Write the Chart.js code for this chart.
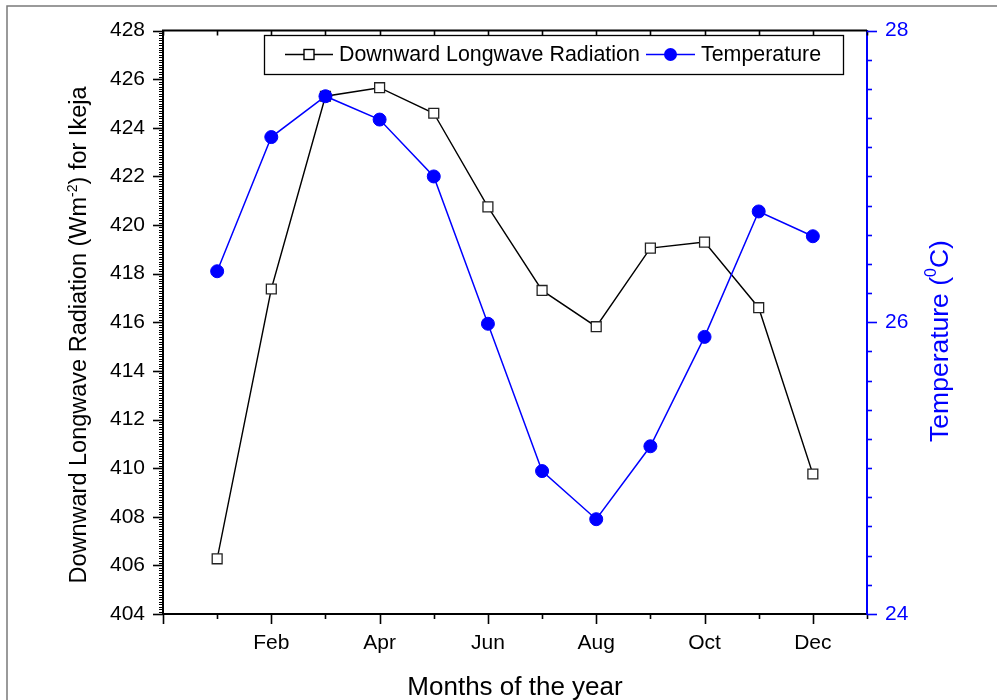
<!DOCTYPE html>
<html lang="en">
<head>
<meta charset="UTF-8">
<title>Downward Longwave Radiation and Temperature - Ikeja</title>
<script src="https://cdn.jsdelivr.net/npm/chart.js"></script>
<style>
    body { margin: 0; background: #fff; }
    canvas { display: block; }
</style>
</head>
<body>
<canvas id="chart" width="997" height="700"></canvas>
<script>
// data
var months = ['Jan', 'Feb', 'Mar', 'Apr', 'May', 'Jun', 'Jul', 'Aug', 'Sep', 'Oct', 'Nov', 'Dec'];
var monthIndex = [1, 2, 3, 4, 5, 6, 7, 8, 9, 10, 11, 12];
var radiation = [406.27, 417.37, 425.3, 425.65, 424.6, 420.75, 417.31, 415.82, 419.05, 419.3, 416.6, 409.76];
var temperature = [26.35, 27.27, 27.55, 27.39, 27.0, 25.99, 24.98, 24.65, 25.15, 25.9, 26.76, 26.59];
var radTicks = [404, 428, 2];   // min, max, step
var tempTicks = [24, 28, 2];

var FONT = 'Liberation Sans, Arial, sans-serif';

function points(ys) {
    return monthIndex.map(function (m, i) { return { x: m, y: ys[i] }; });
}

// text with superscript pieces, centered on (cx, cy)
function richText(ctx, parts, cx, cy, size, color, rotate) {
    ctx.save();
    ctx.translate(cx, cy);
    if (rotate) ctx.rotate(-Math.PI / 2);
    ctx.fillStyle = color;
    ctx.textBaseline = 'alphabetic';
    var w = 0;
    parts.forEach(function (p) {
        ctx.font = (p.sup ? Math.round(size * 0.6) : size) + 'px ' + FONT;
        p.w = ctx.measureText(p.t).width;
        w += p.w;
    });
    var x = -w / 2;
    var base = size * 0.36;
    parts.forEach(function (p) {
        ctx.font = (p.sup ? Math.round(size * 0.6) : size) + 'px ' + FONT;
        ctx.fillText(p.t, x, p.sup ? base - size * 0.42 : base);
        x += p.w;
    });
    ctx.restore();
}

var decorations = {
    id: 'decorations',
    afterDraw: function (chart) {
        var ctx = chart.ctx;
        var a = chart.chartArea;
        var sx = chart.scales.x, sy = chart.scales.y, sy1 = chart.scales.y1;
        ctx.save();

        // outer frame
        ctx.strokeStyle = '#7a7a7a';
        ctx.lineWidth = 1.5;
        ctx.strokeRect(7, 6, 1200, 1200);

        // top axis line
        ctx.strokeStyle = '#000';
        ctx.lineWidth = 2;
        ctx.beginPath();
        ctx.moveTo(a.left - 1, a.top);
        ctx.lineTo(a.right, a.top);
        ctx.stroke();

        // x ticks (bottom outward, top inward)
        ctx.lineWidth = 1.6;
        for (var v = 0; v <= 13; v++) {
            var px = Math.round(sx.getPixelForValue(v)) + 0.5;
            var len = v % 2 === 0 ? 10 : 5;
            ctx.beginPath();
            ctx.moveTo(px, a.bottom);
            ctx.lineTo(px, a.bottom + len);
            ctx.moveTo(px, a.top);
            ctx.lineTo(px, a.top + 5);
            ctx.stroke();
        }

        // left ticks: minor every 0.1
        for (var i = 0; i <= 240; i++) {
            var val = radTicks[0] + i * 0.1;
            var py = Math.round(sy.getPixelForValue(val)) + 0.5;
            var major = i % 20 === 0;
            ctx.lineWidth = major ? 1.6 : 1;
            ctx.beginPath();
            ctx.moveTo(a.left, py);
            ctx.lineTo(a.left - (major ? 10 : 4), py);
            ctx.stroke();
        }

        // right ticks: minor every 0.2
        ctx.strokeStyle = '#0000ff';
        for (var j = 0; j <= 20; j++) {
            var tv = tempTicks[0] + j * 0.2;
            var ty = Math.round(sy1.getPixelForValue(tv)) + 0.5;
            var big = j % 10 === 0;
            ctx.lineWidth = 1.6;
            ctx.beginPath();
            ctx.moveTo(a.right, ty);
            ctx.lineTo(a.right + (big ? 10 : 5), ty);
            ctx.stroke();
        }

        // axis titles
        richText(ctx, [{ t: 'Downward Longwave Radiation (Wm' }, { t: '-2', sup: true }, { t: ') for Ikeja' }],
            78, 335, 23.5, '#000', true);
        richText(ctx, [{ t: 'Temperature (' }, { t: '0', sup: true }, { t: 'C)' }],
            938, 341, 26.5, '#0000ff', true);
        richText(ctx, [{ t: 'Months of the year' }], (a.left + a.right) / 2, 686, 26, '#000', false);

        // legend
        ctx.fillStyle = '#fff';
        ctx.fillRect(264, 35, 580, 39);
        ctx.strokeStyle = '#000';
        ctx.lineWidth = 1.3;
        ctx.strokeRect(264.5, 35.5, 579, 39);
        var ly = 54.5;
        ctx.lineWidth = 1.4;
        ctx.beginPath();
        ctx.moveTo(285, ly); ctx.lineTo(333, ly);
        ctx.stroke();
        ctx.fillStyle = '#fff';
        ctx.fillRect(304, ly - 5, 10, 10);
        ctx.strokeRect(304, ly - 5, 10, 10);
        ctx.strokeStyle = '#0000ff';
        ctx.beginPath();
        ctx.moveTo(646, ly); ctx.lineTo(695, ly);
        ctx.stroke();
        ctx.fillStyle = '#0000ff';
        ctx.beginPath();
        ctx.arc(670.5, ly, 6.5, 0, Math.PI * 2);
        ctx.fill();
        ctx.fillStyle = '#000';
        ctx.font = '21.4px ' + FONT;
        ctx.textBaseline = 'middle';
        ctx.fillText('Downward Longwave Radiation', 339, ly + 1);
        ctx.fillText('Temperature', 701, ly + 1);

        ctx.restore();
    }
};

new Chart(document.getElementById('chart'), {
    type: 'line',
    data: {
        datasets: [{
            label: 'Temperature',
            data: points(temperature),
            yAxisID: 'y1',
            borderColor: '#0000ff',
            backgroundColor: '#0000ff',
            borderWidth: 1.5,
            pointStyle: 'circle',
            pointRadius: 6.5,
            pointBorderWidth: 1,
            pointBackgroundColor: '#0000ff',
            pointBorderColor: '#0000ff',
            tension: 0,
            order: 1
        }, {
            label: 'Downward Longwave Radiation',
            data: points(radiation),
            yAxisID: 'y',
            borderColor: '#000',
            backgroundColor: '#fff',
            borderWidth: 1.4,
            pointStyle: 'rect',
            pointRadius: 7,
            pointBorderWidth: 1.3,
            pointBackgroundColor: '#fff',
            pointBorderColor: '#222',
            tension: 0,
            order: 2
        }]
    },
    options: {
        responsive: false,
        animation: false,
        layout: { padding: { top: 28, left: 0, right: 0, bottom: 0 } },
        plugins: {
            legend: { display: false },
            tooltip: { enabled: false }
        },
        scales: {
            x: {
                type: 'linear',
                min: 0,
                max: 13,
                afterFit: function (s) { s.height = 86; },
                grid: { display: false, drawTicks: false },
                border: { display: true, color: '#000', width: 2 },
                ticks: {
                    stepSize: 1,
                    autoSkip: false,
                    maxRotation: 0,
                    padding: 17,
                    color: '#000',
                    font: { family: FONT, size: 21 },
                    callback: function (v) {
                        return (v % 2 === 0 && v >= 2 && v <= 12) ? months[v - 1] : '';
                    }
                }
            },
            y: {
                position: 'left',
                min: radTicks[0],
                max: radTicks[1],
                afterFit: function (s) { s.width = 163; },
                grid: { display: false, drawTicks: false },
                border: { display: true, color: '#000', width: 2 },
                ticks: {
                    stepSize: radTicks[2],
                    padding: 18,
                    color: '#000',
                    font: { family: FONT, size: 21 }
                }
            },
            y1: {
                position: 'right',
                min: tempTicks[0],
                max: tempTicks[1],
                afterFit: function (s) { s.width = 130; },
                grid: { display: false, drawTicks: false },
                border: { display: true, color: '#0000ff', width: 2 },
                ticks: {
                    stepSize: tempTicks[2],
                    padding: 18,
                    color: '#0000ff',
                    font: { family: FONT, size: 21 }
                }
            }
        }
    },
    plugins: [decorations]
});
</script>
</body>
</html>
